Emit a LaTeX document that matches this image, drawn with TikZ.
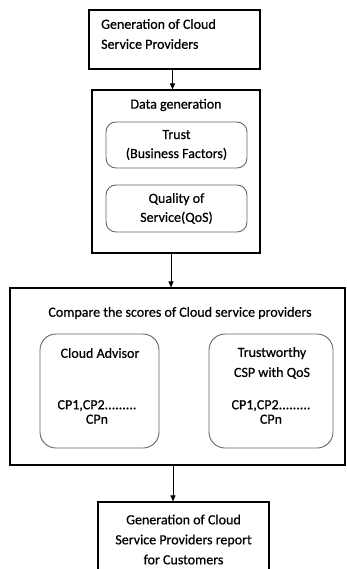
\documentclass[tikz,border=0pt]{standalone}
\usepackage{fontspec}
\setmainfont[FakeBold=0.6]{Carlito}
\usepackage{tikz}
\usetikzlibrary{arrows.meta, positioning}

\begin{document}
\begin{tikzpicture}[x=1pt,y=-1pt,
  box/.style={draw,line width=1.1pt,inner sep=0pt},
  soft/.style={draw=black!60,line width=0.9pt,rounded corners=10pt,inner sep=0pt,align=center,font=\fontsize{14}{19}\selectfont},
  txt/.style={align=center,inner sep=0pt,font=\fontsize{14}{20}\selectfont},
  flow/.style={line width=1pt,-{Triangle[length=6pt,width=5pt]}}]
  \useasboundingbox (0,0) rectangle (347,569);
  % top box
  \node[box,minimum width=171pt,minimum height=59pt] (gen) at (174.5,39.5) {};
  \node[txt,align=left,anchor=west] (genlbl) at (101,34) {Generation of Cloud\\Service Providers};
  % data generation
  \node[box,minimum width=168pt,minimum height=163pt] (data) at (176,171.5) {};
  \node[txt] (datalbl) at (176,105) {Data generation};
  \node[soft,minimum width=141pt,minimum height=46pt] (trust) at (176.5,145) {Trust\\(Business Factors)};
  \node[soft,minimum width=141pt,minimum height=47pt] (qos) at (176.5,208.5) {Quality of\\Service(QoS)};
  % comparison
  \node[box,minimum width=335pt,minimum height=177pt] (cmp) at (177.5,376.5) {};
  \node[txt] (cmplbl) at (180,313) {Compare the scores of Cloud service providers};
  \node[soft,rounded corners=16pt,minimum width=119pt,minimum height=114pt] (adv) at (99.5,391) {};
  \node[soft,rounded corners=16pt,minimum width=124pt,minimum height=114pt] (tw) at (271,391) {};
  \node[txt] (advlbl) at (100,353) {Cloud Advisor};
  \node[txt,font=\fontsize{14}{14.5}\selectfont] (advcp) at (97,412) {CP1,CP2.........\\CPn};
  \node[txt] (twlbl) at (272,363) {Trustworthy\\CSP with QoS};
  \node[txt,font=\fontsize{14}{14.5}\selectfont] (twcp) at (271,412) {CP1,CP2.........\\CPn};
  % report
  \node[box,txt,minimum width=171pt,minimum height=75pt] (rep) at (183.5,539.5) {Generation of Cloud\\Service Providers report\\for Customers};
  % arrows
  \draw[flow] ([xshift=-2pt]gen.south) -- ([xshift=-2pt]gen.south |- data.north);
  \draw[flow] ([xshift=-5pt]data.south) -- ([xshift=-5pt]data.south |- cmp.north);
  \draw[flow] ([xshift=-4.5pt]cmp.south) -- ([xshift=-4.5pt]cmp.south |- rep.north);
\end{tikzpicture}
\end{document}
